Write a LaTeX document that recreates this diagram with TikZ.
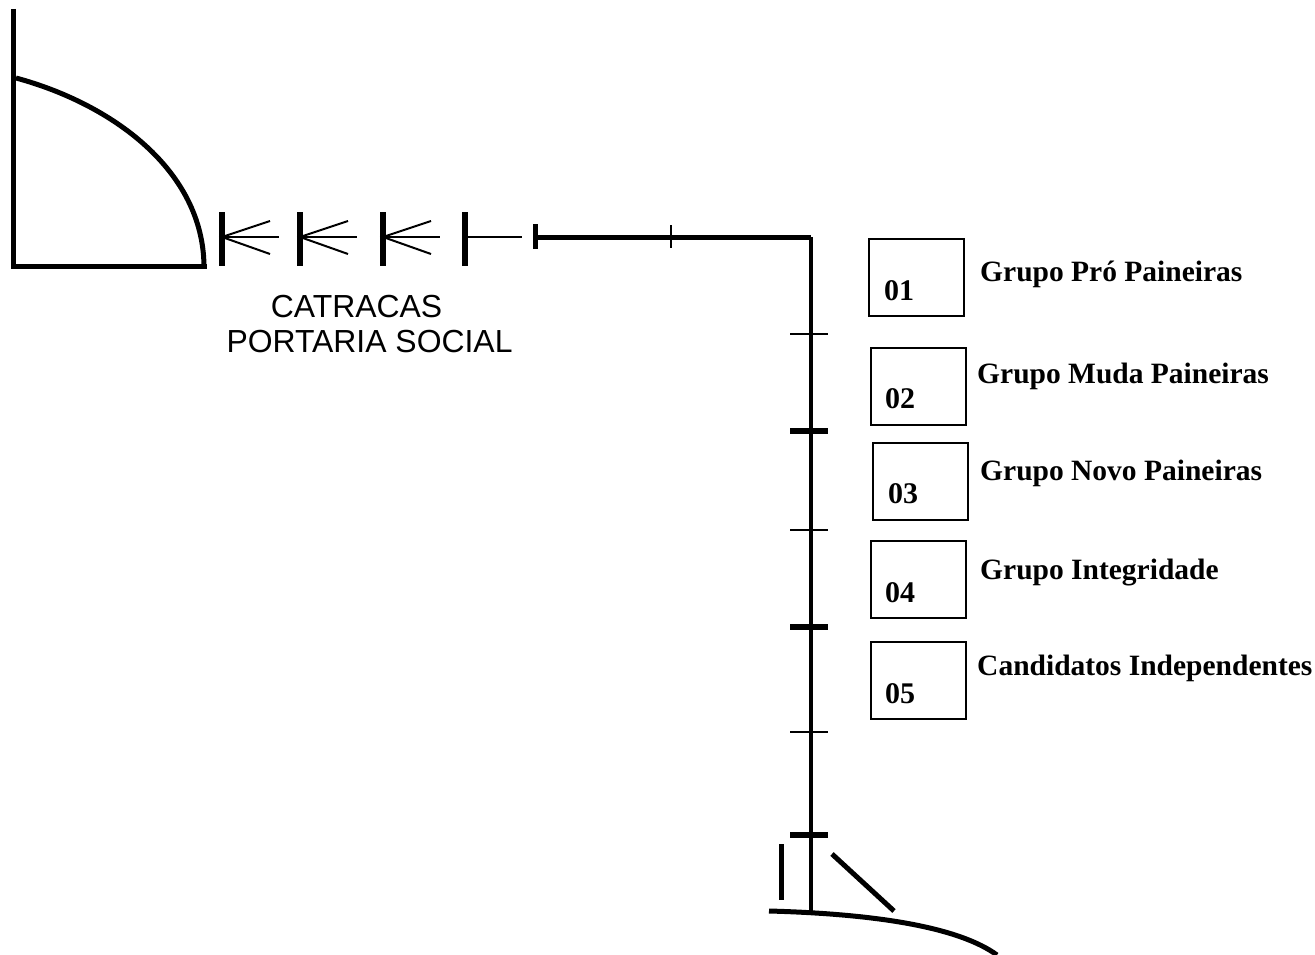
\documentclass[tikz,border=0pt]{standalone}
\usepackage{fontspec}
\setmainfont{Liberation Serif}
\newfontfamily\arialfont{Liberation Sans}
\begin{document}
\begin{tikzpicture}[x=1pt,y=-1pt,
  thick line/.style={line width=5pt},
  thin line/.style={line width=2pt},
  bar/.style={line width=6pt},
  groupbox/.style={draw,line width=1.5pt,minimum width=95pt,minimum height=77pt,inner sep=0pt,anchor=north west},
  numtext/.style={anchor=base west,inner sep=0pt,font=\fontsize{30}{32}\selectfont\bfseries},
  grouptext/.style={anchor=base west,inner sep=0pt,font=\fontsize{29.5}{32}\selectfont\bfseries},
  signtext/.style={anchor=base,inner sep=0pt,font=\fontsize{31.9}{35}\selectfont\arialfont}]
\useasboundingbox (0,0) rectangle (1315,955);
% portaria social (door)
\draw[thick line] (13,9) -- (13,266) -- (207,266);
\draw[thick line] (16,78) .. controls (112,104) and (203,170) .. (204,266);
% catracas
\foreach \x/\c in {222/1,300/1,383/1,465/0}{
  \draw[bar] (\x,212) -- (\x,266);
  \draw[thin line] (\x,237) -- ++(57,0);
  \ifnum\c=1
    \draw[thin line] (\x+48,221) -- (\x,237) -- (\x+48,254);
  \fi
}
\node[signtext] (sign1) at (356.5,317) {CATRACAS};
\node[signtext] (sign2) at (369.5,352) {PORTARIA SOCIAL};
% path
\coordinate (start) at (535,237);
\coordinate (corner) at (811,237);
\coordinate (end) at (811,911);
\draw[thick line] (535,224) -- (535,249);
\draw[thick line] (start) -- (corner);
\draw[line width=4.5pt] (corner) -- (end);
\draw[thin line] (671,225) -- (671,248);
\foreach \y in {334,530,732}{\draw[thin line] (790,\y) -- (828,\y);}
\foreach \y in {431,627,835}{\draw[bar] (790,\y) -- (828,\y);}
% bottom gate
\draw[thick line] (781,844) -- (781,900);
\draw[thick line] (832,854) -- (894,911);
\draw[thick line] (769,911) .. controls (880,914) and (960,928) .. (997,955);
% boxes
\node[groupbox] (b1) at (868,238) {};
\node[groupbox] (b2) at (870,347) {};
\node[groupbox] (b3) at (872,442) {};
\node[groupbox] (b4) at (870,540) {};
\node[groupbox] (b5) at (870,641) {};
\node[numtext] (n1) at (884,300) {01};
\node[numtext] (n2) at (885,408) {02};
\node[numtext] (n3) at (888,503) {03};
\node[numtext] (n4) at (885,602) {04};
\node[numtext] (n5) at (885,703) {05};
\node[grouptext] (g1) at (980,281) {Grupo Pró Paineiras};
\node[grouptext] (g2) at (977,383) {Grupo Muda Paineiras};
\node[grouptext] (g3) at (980,480) {Grupo Novo Paineiras};
\node[grouptext] (g4) at (980,579) {Grupo Integridade};
\node[grouptext] (g5) at (977,675) {Candidatos Independentes};
\end{tikzpicture}
\end{document}
